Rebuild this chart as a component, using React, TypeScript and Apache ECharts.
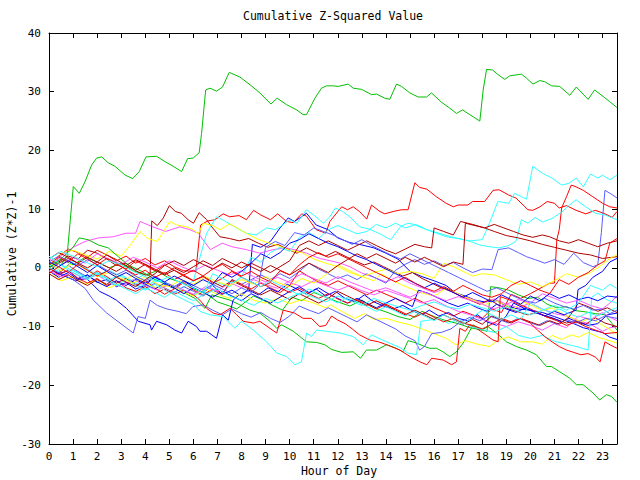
import React, { useEffect, useRef } from "react";
import * as echarts from "echarts";

const RED = "#ff0000";
const GREEN = "#00c000";
const BLUE = "#0000ff";
const MAGENTA = "#ff55ff";
const CYAN = "#33ffff";
const DARKRED = "#b00000";
const YELLOW = "#ffff00";
const SLATE = "#5c5cff";

const Y_TICKS = [-30, -20, -10, 0, 10, 20, 30, 40];
const X_MAX_HOUR = 23.6;

const greenTop = [[0,0.5],[0.25,1],[0.5,0.5],[0.75,2],[1.01,13.85],[1.26,12.7],[1.5,14.7],[1.77,17.5],[1.98,18.7],[2.19,18.9],[2.46,17.9],[2.74,17.3],[3.16,15.8],[3.48,15.2],[3.75,16.4],[4.03,18.9],[4.47,19.0],[4.82,18.1],[5.16,17.3],[5.51,16.4],[5.76,18.6],[5.99,18.7],[6.24,19.6],[6.34,22.9],[6.51,30.3],[6.69,30.6],[6.96,30.1],[7.21,30.8],[7.49,33.3],[7.93,32.5],[8.35,31.2],[8.76,29.8],[9.22,27.9],[9.48,28.9],[9.87,27.8],[10.29,26.9],[10.56,26.1],[10.7,26.1],[11.05,28.9],[11.32,30.6],[11.53,31.0],[11.81,31.0],[12.01,30.9],[12.43,31.3],[12.64,30.6],[12.99,30.4],[13.4,29.5],[13.61,29.6],[13.95,28.9],[14.16,28.7],[14.44,31.3],[14.65,30.9],[14.99,29.8],[15.34,29.1],[15.69,29.1],[15.89,29.8],[16.31,28.2],[16.65,27.2],[16.93,26.3],[17.18,26.9],[17.48,26.1],[17.9,25.0],[18.04,30.3],[18.18,33.8],[18.43,33.7],[18.66,32.9],[18.94,32.1],[19.14,32.7],[19.63,33.0],[19.84,32.3],[20.11,31.3],[20.39,31.9],[20.6,31.7],[20.88,31.0],[21.22,30.9],[21.64,29.4],[21.91,30.8],[22.4,28.7],[22.67,30.3],[23.02,29.2],[23.3,28.3],[23.6,27.3]];

const greenLow = [[0,0],[0.5,1.5],[1.0,3.5],[1.25,5.1],[1.63,4.8],[2.05,3.9],[2.46,3.4],[2.88,1.9],[3.29,0.5],[3.85,-0.6],[4.4,-2.0],[4.95,-2.9],[5.51,-4.0],[6.06,-5.2],[6.48,-6.9],[6.76,-4.6],[7.1,-5.0],[7.52,-5.5],[7.93,-6.3],[8.35,-7.2],[8.76,-7.7],[9.18,-9.1],[9.46,-10.3],[9.66,-9.7],[10.15,-10.8],[10.7,-12.6],[11.12,-12.7],[11.46,-13.1],[11.74,-13.9],[12.16,-14.4],[12.64,-14.3],[12.94,-15.4],[13.19,-14.0],[13.61,-14.0],[14.02,-13.1],[14.37,-13.6],[14.71,-14.3],[14.92,-12.4],[15.27,-12.8],[15.61,-13.4],[15.82,-13.7],[16.1,-13.7],[16.37,-14.3],[16.65,-15.1],[16.93,-14.3],[17.21,-12.8],[17.62,-9.7],[17.97,-10.6],[18.24,-10.0],[18.59,-11.1],[19.01,-12.6],[19.42,-13.4],[19.84,-14.0],[20.25,-14.8],[20.67,-16.8],[20.88,-16.8],[21.22,-17.7],[21.64,-18.8],[21.91,-19.9],[22.19,-19.9],[22.6,-21.3],[22.88,-22.5],[23.16,-21.6],[23.37,-21.9],[23.6,-22.9]];

const greenMid = [[0,0.5],[0.5,1.5],[1,0.5],[1.5,1.8],[2,1.0],[2.5,0],[3,0.8],[3.5,-0.5],[4,-1.2],[4.5,-0.5],[5,-1.8],[5.5,-2.5],[6,-3.6],[6.5,-4.3],[7,-5.8],[7.5,-6.5],[7.8,-7.0],[8.1,-6.0],[8.5,-4.8],[8.9,-5.5],[9.3,-6.4],[9.7,-7.2],[10.1,-5.0],[10.5,-5.6],[11,-4.2],[11.5,-5.0],[12,-5.8],[12.5,-6.5],[13,-5.5],[13.5,-6.8],[14,-7.5],[14.5,-8.3],[15,-8.8],[15.5,-7.4],[16,-8.3],[16.5,-9.0],[17,-9.5],[17.5,-10.2],[18,-10.6],[18.2,-10.8],[18.35,-3.2],[18.7,-3.4],[19.1,-3.8],[19.5,-4.6],[19.9,-5.2],[20.3,-5.0],[20.7,-6.2],[21.1,-6.8],[21.5,-6.6],[21.9,-7.3],[22.3,-7.5],[22.7,-7.8],[23.1,-8.0],[23.4,-9.5],[23.6,-10.6]];

const blueLow = [[0,0],[0.3,-0.8],[0.7,-1.5],[1.1,-2.2],[1.56,-1.8],[2.1,-4.0],[2.5,-4.8],[2.8,-5.5],[3.22,-6.9],[3.71,-9.1],[4.2,-9.7],[4.26,-10.6],[4.47,-9.1],[4.89,-9.7],[5.23,-10.6],[5.51,-11.1],[5.78,-9.1],[6.13,-10.0],[6.27,-10.8],[6.55,-10.8],[6.76,-11.4],[6.96,-12.0],[7.21,-8.0],[7.45,-8.9],[7.65,-5.5],[7.9,-4.6],[8.3,-3.8],[8.7,-4.6],[9.1,-3.4],[9.5,-4.1],[9.9,-2.8],[10.3,-3.6],[10.7,-4.5],[11.1,-3.6],[11.5,-4.8],[11.9,-4.0],[12.3,-5.2],[12.7,-5.8],[13.1,-4.6],[13.5,-5.8],[13.9,-6.5],[14.3,-7.0],[14.7,-6.4],[15.1,-7.3],[15.5,-8.0],[15.8,-7.2],[16.2,-8.2],[16.6,-7.6],[17.0,-8.6],[17.4,-9.0],[17.8,-8.0],[18.2,-9.2],[18.6,-9.8],[19.0,-8.2],[19.3,-6.0],[19.7,-6.8],[20.1,-7.4],[20.5,-8.0],[20.9,-8.5],[21.3,-9.2],[21.6,-8.6],[22.0,-9.3],[22.4,-9.8],[22.8,-9.5],[23.2,-8.0],[23.6,-7.7]];

const blueArc = [[0,0],[0.4,-1],[0.8,-0.5],[1.2,-1.8],[1.6,-1.2],[2.0,-2.5],[2.4,-2.0],[2.8,-3.2],[3.2,-2.5],[3.6,-3.6],[4.0,-3.0],[4.4,-1.5],[4.8,-2.8],[5.2,-3.5],[5.6,-2.2],[6.0,-3.4],[6.4,-4.2],[6.8,-3.0],[7.2,-4.5],[7.6,-3.8],[8.0,-4.8],[8.3,-3.5],[8.45,4.0],[8.8,3.5],[9.2,4.5],[9.6,6.8],[9.94,8.5],[10.2,7.9],[10.7,9.3],[11.1,7.3],[11.6,6.5],[12.0,5.1],[12.5,4.3],[13.0,3.9],[13.5,3.4],[14.0,2.5],[14.5,1.5],[15.0,-0.6],[15.5,-1.5],[16.0,-2.2],[16.5,-3.0],[16.9,-4.3],[17.3,-4.8],[17.7,-5.5],[18.1,-5.8],[18.6,-5.6],[19.0,-6.5],[19.5,-7.0],[20.0,-7.2],[20.5,-7.6],[21.0,-8.3],[21.4,-8.9],[21.8,-9.5],[22.2,-10.2],[22.6,-10.6],[23.0,-11.0],[23.3,-11.8],[23.6,-12.2]];

const blueRise = [[0,-0.5],[0.4,-1.6],[0.8,-0.8],[1.2,-2.0],[1.6,-1.2],[2,-2.4],[2.4,-3.2],[2.8,-2.2],[3.2,-3.0],[3.6,-2.0],[4,-2.8],[4.4,-3.6],[4.8,-2.6],[5.2,-3.4],[5.6,-4.4],[6,-3.4],[6.4,-4.2],[6.8,-5.0],[7.2,-4.0],[7.6,-4.8],[8.0,-5.6],[8.4,-4.4],[8.8,-5.2],[9.2,-6.0],[9.6,-5.0],[10.0,-4.0],[10.4,-3.2],[10.8,-4.2],[11.2,-3.4],[11.6,-4.4],[12.0,-5.2],[12.4,-6.0],[12.8,-5.2],[13.2,-6.0],[13.6,-6.8],[14.0,-6.0],[14.4,-5.2],[14.8,-6.0],[15.1,-6.6],[15.35,-3.8],[15.8,-4.4],[16.2,-5.2],[16.6,-6.0],[17.0,-6.6],[17.4,-6.0],[17.8,-6.8],[18.2,-7.4],[18.6,-6.2],[19.0,-7.0],[19.4,-7.6],[19.8,-6.8],[20.2,-7.6],[20.6,-8.2],[21.0,-7.4],[21.4,-8.0],[21.9,-7.2],[21.98,-3.7],[22.3,-3.0],[22.6,-1.6],[23.0,-0.6],[23.3,1.0],[23.6,1.6]];

const blueMid = [[0,1.0],[0.4,0.2],[0.8,1.2],[1.2,0.2],[1.6,-0.8],[2.0,0.4],[2.4,-0.6],[2.8,-1.6],[3.2,-0.8],[3.6,-1.8],[4.0,-2.6],[4.4,-1.6],[4.8,-2.4],[5.2,-1.4],[5.6,-2.2],[6.0,-3.0],[6.4,-2.0],[6.8,-2.8],[7.2,-0.8],[7.6,-1.6],[8.0,-0.6],[8.4,0.8],[8.8,2.4],[9.2,1.6],[9.6,2.6],[10.0,4.2],[10.4,4.8],[10.8,5.8],[11.2,5.0],[11.6,4.2],[12.0,3.6],[12.4,2.8],[12.8,2.0],[13.2,1.4],[13.6,0.6],[14.0,-0.2],[14.4,-1.0],[14.8,-1.8],[15.2,-2.6],[15.6,-3.4],[16.0,-2.6],[16.4,-3.4],[16.8,-4.2],[17.2,-5.0],[17.6,-4.2],[18.0,-5.0],[18.4,-5.8],[18.8,-4.6],[19.2,-5.4],[19.6,-6.2],[20.0,-4.8],[20.4,-5.6],[20.8,-4.4],[21.2,-5.2],[21.6,-4.6],[22.0,-5.4],[22.4,-5.0],[22.8,-5.6],[23.2,-4.8],[23.6,-5.0]];

const cyanHigh = [[0,0.5],[0.5,-0.5],[1,1.2],[1.5,0],[2,-1.2],[2.5,-0.4],[3,-1.5],[3.5,-2.2],[4,-1.0],[4.5,-2.0],[5,-2.8],[5.5,-3.5],[6,-2.2],[6.55,5.9],[6.96,8.7],[7.3,8.0],[7.7,7.0],[8.2,5.9],[8.6,5.6],[9.04,6.8],[9.4,6.5],[9.6,7.0],[10.0,8.2],[10.3,7.6],[10.7,9.9],[11.0,9.0],[11.4,7.6],[11.67,8.7],[11.9,10.2],[12.2,9.6],[12.5,8.7],[12.9,7.0],[13.3,6.6],[13.7,5.9],[14.2,4.8],[14.6,7.0],[14.9,7.6],[15.3,7.3],[15.7,6.5],[16.1,5.9],[16.5,5.3],[17.0,5.0],[17.5,4.6],[18.0,4.8],[18.3,7.6],[18.65,11.3],[19.1,11.0],[19.35,12.7],[19.84,11.7],[20.1,17.3],[20.5,16.1],[20.9,15.3],[21.3,14.1],[21.6,14.4],[21.9,15.3],[22.2,13.8],[22.5,16.0],[22.8,15.3],[23.0,15.8],[23.3,15.0],[23.6,15.8]];

const cyanUpper = [[0,-1],[0.5,0.5],[1,-0.5],[1.5,-1.5],[2,-0.8],[2.5,-2],[3,-1.2],[3.5,-2.4],[4,-3.2],[4.5,-2.0],[5,-3.0],[5.5,-3.8],[6,-4.6],[6.5,-3.8],[7,-2.5],[7.5,-3.2],[8,-1.5],[8.4,1.8],[8.8,1.0],[9.2,2.6],[9.6,3.5],[10,2.8],[10.4,5.2],[10.8,6.0],[11.2,5.0],[11.6,6.5],[12,7.2],[12.4,6.5],[12.8,5.8],[13.2,6.2],[13.6,7.4],[14,6.8],[14.4,7.6],[14.8,6.8],[15.2,7.3],[15.7,6.5],[16.2,5.9],[16.7,5.3],[17.1,4.9],[17.5,4.5],[17.9,3.9],[18.3,3.6],[18.7,3.4],[19.1,3.8],[19.4,4.5],[19.63,8.2],[19.9,7.6],[20.2,8.6],[20.5,7.8],[20.9,8.4],[21.3,9.5],[21.6,10.6],[21.9,11.6],[22.3,10.4],[22.7,9.3],[23.1,9.0],[23.6,8.2]];

const cyanLow = [[0,0],[0.4,-0.6],[0.8,0.4],[1.2,-0.8],[1.6,-1.8],[2.0,-1.0],[2.4,-2.2],[2.8,-3.0],[3.2,-2.0],[3.6,-3.0],[4.0,-3.8],[4.4,-2.8],[4.8,-3.8],[5.2,-4.6],[5.6,-5.4],[6.0,-6.2],[6.27,-7.4],[6.69,-8.0],[7.24,-8.3],[7.72,-10.3],[8.0,-9.1],[8.49,-10.6],[9.04,-12.6],[9.46,-14.5],[9.87,-15.1],[10.22,-16.5],[10.49,-16.0],[10.7,-11.1],[10.9,-11.7],[11.12,-10.6],[11.53,-10.8],[12.1,-11.1],[12.64,-11.7],[13.05,-13.1],[13.4,-11.4],[13.8,-12.2],[14.2,-12.9],[14.6,-13.6],[14.9,-14.5],[15.27,-14.8],[15.45,-9.1],[15.8,-8.9],[16.2,-8.6],[16.6,-9.5],[17.0,-8.7],[17.5,-10.0],[18.0,-10.5],[18.5,-11.0],[19.0,-10.0],[19.5,-11.5],[20.0,-12.0],[20.5,-11.5],[21.0,-12.5],[21.5,-13.0],[22.0,-13.5],[22.4,-14.0],[22.55,-5.0],[22.8,-4.3],[23.2,-5.5],[23.6,-6.0]];

const cyanMid = [[0,1.5],[0.5,2.8],[1,2.0],[1.5,1.0],[2,0.2],[2.5,1.2],[3,0.5],[3.5,-0.6],[4,-1.5],[4.5,-2.4],[5,-1.5],[5.5,-2.6],[6,-3.4],[6.5,-4.5],[7,-3.5],[7.5,-4.8],[8,-5.5],[8.5,-6.4],[9,-5.2],[9.5,-6.0],[10,-5.0],[10.5,-4.2],[11,-5.0],[11.5,-5.8],[12,-4.8],[12.5,-5.6],[13,-6.4],[13.5,-5.2],[14,-6.0],[14.5,-6.6],[15,-7.2],[15.5,-6.4],[16,-5.8],[16.5,-6.6],[17,-7.0],[17.5,-6.2],[18,-6.8],[18.5,-7.4],[19,-6.6],[19.5,-7.4],[20,-8.0],[20.5,-7.2],[21,-6.4],[21.5,-7.2],[22,-6.0],[22.5,-3.0],[23,-3.8],[23.3,-2.8],[23.6,-3.5]];

const cyanDip = [[0,2.0],[0.4,0.8],[0.8,-0.4],[1.2,-1.2],[1.6,-2.0],[2.0,-1.0],[2.4,-1.8],[2.8,-2.8],[3.2,-3.6],[3.6,-4.4],[4.0,-3.4],[4.4,-4.2],[4.8,-5.0],[5.2,-4.0],[5.6,-4.8],[6.0,-5.6],[6.4,-4.6],[6.8,-1.0],[7.2,-1.8],[7.6,-2.6],[8.0,-1.6],[8.4,-2.4],[8.8,-3.2],[9.2,-2.2],[9.6,-3.0],[10.0,-3.8],[10.4,-4.6],[10.8,-3.6],[11.2,-4.4],[11.6,-5.2],[12.0,-6.0],[12.4,-5.0],[12.8,-5.8],[13.2,-6.6],[13.6,-7.4],[14.0,-6.6],[14.4,-7.4],[14.8,-8.2],[15.2,-7.4],[15.6,-8.2],[16.0,-9.0],[16.4,-8.0],[16.8,-8.8],[17.2,-9.6],[17.6,-8.4],[18.0,-7.2],[18.4,-8.0],[18.8,-8.8],[19.2,-8.0],[19.6,-8.8],[20.0,-6.0],[20.4,-6.8],[20.8,-7.6],[21.2,-7.0],[21.6,-7.8],[22.0,-8.4],[22.4,-7.6],[22.8,-8.2],[23.2,-7.4],[23.6,-6.8]];

const redHigh = [[0,0.5],[0.4,2.0],[0.8,3.2],[1.2,2.6],[1.6,1.8],[2.0,3.0],[2.4,2.2],[2.8,1.2],[3.2,2.0],[3.6,0.8],[4.0,1.6],[4.4,0.5],[4.8,1.2],[5.2,0.2],[5.6,-0.5],[6.1,-0.6],[6.3,7.3],[6.6,8.0],[6.9,8.2],[7.24,9.2],[7.5,8.7],[7.9,8.9],[8.2,8.2],[8.5,9.8],[8.8,9.0],[9.2,8.2],[9.5,9.2],[9.87,7.9],[10.15,7.7],[10.5,9.2],[10.7,8.8],[11.1,6.5],[11.5,5.9],[11.67,7.9],[12.16,10.4],[12.4,9.9],[12.64,10.4],[12.9,9.6],[13.2,8.3],[13.4,10.7],[13.75,9.6],[13.95,9.2],[14.3,9.6],[14.65,9.9],[14.92,9.9],[15.2,14.5],[15.4,13.7],[15.7,13.4],[16.1,12.1],[16.5,11.0],[16.8,10.4],[17.0,10.7],[17.4,10.7],[17.6,11.3],[18.1,11.3],[18.45,13.2],[18.7,13.3],[19.1,12.4],[19.4,11.9],[19.9,9.9],[20.1,9.8],[20.4,10.4],[20.7,11.3],[21.0,11.0],[21.2,10.2],[21.5,10.6],[21.9,9.8],[22.3,9.2],[22.7,9.8],[23.1,9.2],[23.4,8.6],[23.6,9.6]];

const redRise = [[0,0],[0.4,-1.0],[0.8,0.5],[1.2,-0.8],[1.6,-1.8],[2,-0.5],[2.4,-1.5],[2.8,-2.6],[3.2,-1.8],[3.6,-3.0],[4,-2.2],[4.4,-3.4],[4.8,-4.5],[5.2,-3.6],[5.6,-2.5],[6,-3.8],[6.4,-4.6],[6.8,-3.6],[7.2,-4.4],[7.6,-2.0],[8.0,-2.8],[8.4,-3.6],[8.8,-2.6],[9.2,-3.4],[9.6,-4.2],[10,-3.0],[10.4,-0.5],[10.8,-1.5],[11.2,-2.4],[11.6,-3.0],[12,-2.2],[12.4,-3.0],[12.8,-3.8],[13.2,-4.6],[13.6,-3.8],[14.0,-4.5],[14.4,-5.2],[14.8,-6.0],[15.2,-5.2],[15.6,-6.0],[16.0,-6.8],[16.4,-7.5],[16.8,-8.2],[17.2,-7.4],[17.6,-8.0],[18.0,-8.6],[18.4,-7.0],[18.8,-7.6],[19.2,-4.5],[19.6,-5.2],[20.0,-4.4],[20.4,-3.5],[20.8,-2.6],[21.0,-2.6],[21.1,4.8],[21.2,6.5],[21.3,10.2],[21.5,12.1],[21.7,14.1],[21.9,13.8],[22.2,13.2],[22.6,12.1],[23.0,11.0],[23.3,10.4],[23.6,10.2]];

const redLow = [[0,0],[0.4,-1.2],[0.8,-0.4],[1.2,-1.8],[1.6,-2.6],[2,-1.8],[2.4,-3.0],[2.8,-2.2],[3.2,-3.4],[3.6,-4.0],[4,-3.2],[4.4,-4.4],[4.8,-3.6],[5.2,-4.5],[5.6,-3.8],[6.0,-4.6],[6.27,-5.5],[6.55,-6.9],[6.82,-7.7],[7.1,-8.0],[7.52,-6.9],[7.8,-8.0],[8.07,-9.1],[8.49,-9.4],[8.76,-9.1],[9.18,-10.3],[9.46,-11.1],[9.73,-7.2],[10.2,-7.7],[10.56,-8.6],[10.9,-8.6],[11.25,-10.0],[11.5,-9.8],[11.74,-8.2],[12.0,-8.9],[12.3,-9.5],[12.6,-10.4],[12.9,-11.4],[13.33,-12.3],[13.7,-12.6],[14.1,-13.2],[14.58,-14.0],[15.0,-15.1],[15.41,-16.0],[15.7,-16.5],[15.9,-15.4],[16.38,-15.7],[16.73,-16.5],[16.93,-16.0],[17.07,-10.3],[17.3,-10.8],[17.48,-9.7],[17.76,-10.3],[18.04,-11.1],[18.45,-12.3],[18.66,-12.6],[18.75,-4.9],[19.1,-5.4],[19.5,-6.2],[19.9,-6.8],[20.3,-7.6],[20.7,-8.4],[21.1,-9.0],[21.5,-9.8],[21.9,-9.2],[22.3,-10.0],[22.7,-10.6],[23.1,-11.2],[23.6,-11.0]];

const redBottom = [[0,0.5],[0.4,1.8],[0.8,1.0],[1.2,2.4],[1.6,1.5],[2,0.5],[2.4,1.6],[2.8,0.8],[3.2,-0.3],[3.6,-1.2],[4.0,-0.4],[4.4,-1.6],[4.8,-0.8],[5.2,-2.0],[5.6,-1.2],[6,-2.2],[6.4,-1.5],[6.8,-2.6],[7.2,-1.8],[7.6,-0.6],[8.0,-1.6],[8.4,-2.4],[8.8,-3.2],[9.2,-2.5],[9.6,-3.4],[10,-4.2],[10.4,-3.5],[10.8,-4.4],[11.2,-5.2],[11.6,-4.4],[12,-5.3],[12.4,-6.0],[12.8,-5.4],[13.2,-6.2],[13.6,-7.0],[14.0,-6.2],[14.4,-7.0],[14.8,-7.8],[15.2,-8.4],[15.6,-7.6],[16.0,-8.4],[16.4,-9.2],[16.8,-8.6],[17.2,-9.4],[17.6,-9.8],[18.0,-10.4],[18.4,-9.6],[18.8,-8.6],[19.2,-9.2],[19.6,-8.6],[20.0,-9.4],[20.3,-10.6],[20.6,-11.7],[20.9,-12.6],[21.2,-13.4],[21.5,-14.0],[21.8,-14.4],[22.1,-14.8],[22.4,-14.6],[22.7,-15.2],[22.9,-16.0],[23.1,-12.6],[23.35,-13.2],[23.6,-13.7]];

const redMid = [[0,-1],[0.4,0.2],[0.8,-0.8],[1.2,0.6],[1.6,-0.4],[2,-1.4],[2.4,-0.6],[2.8,0.6],[3.2,-0.2],[3.6,1.2],[4,0.4],[4.4,-0.5],[4.8,0.5],[5.2,-0.4],[5.6,-1.2],[6.0,-0.4],[6.4,-1.4],[6.8,-0.2],[7.2,0.6],[7.6,-0.5],[8,-1.4],[8.4,-0.6],[8.8,-1.6],[9.2,-2.4],[9.6,-0.5],[10,-1.2],[10.4,0.5],[10.8,1.8],[11.2,2.6],[11.6,1.8],[12,2.4],[12.4,1.6],[12.8,0.8],[13.2,0],[13.6,-0.8],[14,-1.6],[14.4,-2.4],[14.8,-1.6],[15.2,-2.6],[15.6,-3.4],[16,-4.0],[16.4,-3.2],[16.8,-4.0],[17.2,-3.0],[17.6,-3.8],[18.0,-4.6],[18.4,-5.0],[18.8,-4.4],[19.2,-3.0],[19.6,-2.2],[20.0,-3.0],[20.4,-3.8],[20.8,-4.4],[21.2,-2.0],[21.6,-2.8],[22.0,-1.6],[22.4,-0.8],[22.8,0.5],[23.1,1.2],[23.3,4.2],[23.6,5.0]];

const darkRedHigh = [[0,0],[0.4,1.0],[0.8,2.0],[1.2,1.5],[1.6,3.0],[2,2.5],[2.4,1.5],[2.8,0.4],[3.2,0.8],[3.6,-0.5],[4.0,-1.2],[4.2,-1.2],[4.27,8.0],[4.5,7.2],[4.75,8.5],[5.0,10.6],[5.25,9.6],[5.5,9.3],[5.78,8.2],[6.0,7.6],[6.24,9.4],[6.55,8.2],[6.8,6.8],[7.1,5.3],[7.5,5.0],[7.9,4.6],[8.3,5.0],[8.7,4.2],[9.1,3.5],[9.5,4.0],[9.9,3.2],[10.3,2.5],[10.7,3.4],[11.1,2.6],[11.5,2.0],[11.9,2.8],[12.3,2.0],[12.7,1.2],[13.1,0.5],[13.5,1.0],[13.9,0.2],[14.3,-0.6],[14.7,-1.4],[15.1,-0.8],[15.5,-1.8],[15.9,-2.6],[16.3,-3.4],[16.7,-4.0],[17.1,-4.8],[17.5,-5.5],[17.9,-6.2],[18.3,-5.4],[18.7,-6.4],[19.1,-7.0],[19.5,-7.5],[19.9,-8.0],[20.3,-7.6],[20.7,-8.4],[21.1,-8.8],[21.5,-9.4],[21.9,-9.0],[22.3,-9.6],[22.7,-8.5],[23.1,-9.4],[23.6,-10.0]];

const darkRedStep = [[0,-0.5],[0.4,0.8],[0.8,1.6],[1.2,0.8],[1.6,0],[2.0,1.0],[2.4,0.2],[2.8,-0.6],[3.2,0.4],[3.6,-0.4],[4.0,0.6],[4.4,-0.2],[4.8,-1.0],[5.2,0],[5.6,-0.8],[6.0,0.2],[6.4,1.2],[6.8,0.4],[7.2,1.6],[7.6,0.8],[8.0,0],[8.4,0.8],[8.8,0],[9.2,-0.8],[9.6,0.2],[10.0,1.2],[10.4,3.8],[10.8,4.6],[11.2,3.8],[11.6,4.6],[12.0,3.8],[12.4,3.0],[12.8,3.8],[13.2,4.6],[13.6,3.8],[14.0,3.0],[14.4,2.4],[14.8,3.2],[15.2,4.0],[15.6,3.6],[15.9,3.4],[16.0,6.8],[16.4,6.2],[16.8,5.6],[17.1,7.9],[17.6,7.4],[18.1,6.8],[18.5,6.2],[19.0,5.5],[19.5,5.1],[20.0,4.6],[20.5,4.0],[21.0,3.5],[21.5,3.0],[22.0,2.5],[22.5,2.2],[23.0,1.6],[23.6,1.9]];

const darkRedMid = [[0,1.5],[0.4,2.6],[0.8,1.8],[1.2,0.8],[1.6,1.8],[2,1.0],[2.4,2.2],[2.8,1.4],[3.2,0.4],[3.6,1.4],[4.0,0.6],[4.4,-0.4],[4.8,-1.2],[5.2,-0.4],[5.6,-1.4],[6.0,-2.2],[6.4,-1.4],[6.8,-2.4],[7.2,-3.2],[7.6,-2.2],[8.0,-3.0],[8.4,-3.8],[8.8,-4.6],[9.2,-3.8],[9.6,-4.6],[10.0,-5.4],[10.4,-4.4],[10.8,-5.2],[11.2,-6.0],[11.6,-5.2],[12.0,-4.0],[12.4,-4.8],[12.8,-5.6],[13.2,-6.4],[13.6,-5.6],[14.0,-6.4],[14.4,-7.2],[14.8,-8.0],[15.2,-7.2],[15.6,-8.0],[16.0,-8.8],[16.4,-8.0],[16.8,-8.8],[17.2,-9.6],[17.6,-8.8],[18.0,-9.6],[18.4,-8.2],[18.8,-8.8],[19.2,-9.4],[19.6,-8.6],[20.0,-9.2],[20.4,-9.8],[20.8,-9.0],[21.2,-9.6],[21.6,-8.4],[22.0,-6.0],[22.4,-6.6],[22.8,-7.4],[23.2,-6.8],[23.6,-7.6]];

const darkRedLate = [[0,-1.0],[0.4,-2.0],[0.8,-1.2],[1.2,-2.2],[1.6,-3.0],[2,-2.0],[2.4,-2.8],[2.8,-1.6],[3.2,-2.4],[3.6,-3.2],[4,-2.0],[4.4,-1.0],[4.8,0.4],[5.2,1.2],[5.6,0.4],[6.0,1.4],[6.4,0.6],[6.8,-0.2],[7.2,0.8],[7.6,0],[8.0,1.0],[8.4,0.2],[8.8,-0.6],[9.2,0.4],[9.6,-0.4],[10.0,-1.2],[10.4,-0.2],[10.8,0.8],[11.2,0],[11.6,-0.8],[12.0,0.4],[12.4,1.4],[12.8,2.4],[13.2,1.6],[13.6,2.4],[14.0,1.6],[14.4,0.8],[14.8,1.8],[15.2,1.0],[15.6,1.8],[16.0,1.0],[16.4,0.2],[16.8,1.0],[17.2,0.6],[17.3,7.6],[17.7,7.2],[18.1,6.8],[18.5,7.4],[18.9,6.8],[19.3,6.2],[19.7,5.6],[20.1,5.2],[20.5,5.6],[20.8,5.3],[21.2,4.6],[21.6,4.2],[22.0,4.8],[22.4,4.2],[22.8,3.6],[23.2,4.2],[23.6,4.6]];

const magentaHigh = [[0,0],[0.5,2],[1,3.5],[1.5,4.5],[2.05,5.1],[2.67,5.3],[3.2,5.9],[3.6,5.9],[3.78,7.9],[4.3,7.0],[4.85,6.2],[5.44,7.0],[5.85,6.5],[6.2,5.9],[6.7,3.1],[7.2,4.2],[7.6,3.6],[8.2,3.1],[8.76,2.5],[9.3,3.1],[9.87,3.4],[10.3,3.0],[10.7,2.5],[11.25,1.6],[11.7,1.2],[12.1,0.8],[12.5,0.2],[13.0,-0.9],[13.5,-1.6],[14.0,-2.4],[14.5,-1.5],[15.0,-2.6],[15.5,-3.4],[16.0,-4.2],[16.5,-3.5],[17.0,-4.6],[17.5,-5.2],[18.0,-6.0],[18.5,-5.3],[19.0,-6.2],[19.5,-6.8],[20.0,-6.0],[20.5,-7.0],[21.0,-7.8],[21.5,-8.2],[22.0,-9.0],[22.5,-9.6],[23.0,-10.8],[23.3,-10.2],[23.6,-10.0]];

const magentaMid = [[0,1.5],[0.5,0.5],[1,1.8],[1.5,0.8],[2,2.4],[2.5,1.5],[3,0.6],[3.5,1.8],[4,1.0],[4.5,0],[5,1.2],[5.5,0.2],[6,-0.6],[6.5,0.5],[7,-0.4],[7.5,-1.2],[8,-0.5],[8.5,-1.5],[9,-2.4],[9.5,-1.6],[10,-2.5],[10.5,-3.2],[11,-2.2],[11.5,-3.0],[12,-3.8],[12.5,-3.0],[13,-3.9],[13.5,-4.6],[14,-3.8],[14.5,-4.5],[15,-5.2],[15.5,-6.0],[16,-5.4],[16.5,-6.5],[17,-7.4],[17.5,-8.0],[18,-8.8],[18.5,-9.4],[19,-10.0],[19.5,-9.2],[20,-9.8],[20.5,-10.6],[21,-9.5],[21.5,-10.2],[22,-8.2],[22.5,-8.8],[23,-7.6],[23.3,-8.4],[23.6,-9.0]];

const magentaLow = [[0,-0.5],[0.5,-1.5],[1,-0.8],[1.5,-2.0],[2,-1.2],[2.5,-2.5],[3,-3.2],[3.5,-2.0],[4,-3.0],[4.5,-3.8],[5,-2.8],[5.5,-3.6],[6,-4.5],[6.5,-3.2],[7,-4.0],[7.5,-2.5],[8,-3.4],[8.5,-2.0],[9,-2.8],[9.5,-3.5],[10,-2.2],[10.5,-1.0],[11,-1.8],[11.5,-2.6],[12,-1.5],[12.5,-2.4],[13,-3.2],[13.5,-4.0],[14,-3.4],[14.5,-4.2],[15,-5.0],[15.5,-4.0],[16,-4.8],[16.5,-5.6],[17,-4.9],[17.5,-5.5],[18,-6.2],[18.5,-7.0],[19,-6.2],[19.5,-5.4],[20,-6.0],[20.5,-4.4],[21,-5.2],[21.5,-6.0],[22,-5.5],[22.5,-6.4],[23,-7.0],[23.3,-6.0],[23.6,-4.8]];

const yellowHigh = [[0,0.5],[0.5,2.5],[1,3.0],[1.5,2.2],[2,1.5],[2.5,2.8],[3,2.0],[3.4,4.0],[3.78,6.2],[4.1,5.0],[4.5,4.5],[5.02,7.9],[5.3,7.3],[5.7,7.0],[6.0,6.5],[6.2,5.8],[6.41,7.6],[6.8,7.2],[7.1,6.5],[7.52,7.5],[7.93,6.5],[8.2,5.9],[8.6,5.0],[9,4.4],[9.5,3.8],[10,3.0],[10.5,2.6],[11,1.5],[11.5,0.8],[12,0.2],[12.5,-0.8],[13,-1.5],[13.5,-2.2],[13.8,-1.0],[14.2,-2.0],[14.6,-2.8],[15,-3.5],[15.5,-4.3],[16,-4.8],[16.5,-3.5],[16.9,-4.2],[17.3,-5.0],[17.7,-5.6],[18.1,-6.3],[18.5,-5.5],[18.9,-6.2],[19.3,-7.0],[19.7,-5.8],[20.1,-6.5],[20.5,-7.3],[20.9,-6.8],[21.3,-7.8],[21.7,-8.5],[22.1,-9.2],[22.5,-8.5],[22.9,-9.5],[23.3,-10.5],[23.6,-11.3]];

const yellowLow = [[0,-0.5],[0.5,-2.2],[1,-1.5],[1.5,-2.8],[2,-2.0],[2.5,-3.4],[3,-2.5],[3.5,-1.2],[4,-2.6],[4.5,-3.5],[5,-2.8],[5.5,-4.0],[6,-4.8],[6.5,-3.6],[7,-4.5],[7.5,-5.2],[8,-4.4],[8.5,-5.5],[9,-6.0],[9.5,-5.2],[10,-6.1],[10.5,-5.4],[11,-6.0],[11.5,-6.8],[11.7,-6.3],[12.2,-7.5],[12.7,-8.6],[13.1,-7.8],[13.5,-8.8],[14,-8.6],[14.5,-9.2],[15,-9.7],[15.5,-10.4],[16,-11.2],[16.5,-12.0],[16.9,-13.1],[17.3,-12.4],[17.8,-13.0],[18.3,-13.4],[18.7,-12.2],[19.1,-11.8],[19.6,-12.6],[20.1,-12.6],[20.5,-13.0],[20.9,-11.5],[21.3,-12.2],[21.7,-11.4],[22.0,-11.8],[22.4,-11.0],[22.8,-11.8],[23.2,-12.3],[23.6,-12.8]];

const yellowMid = [[0,1.0],[0.5,-0.5],[1,0.8],[1.5,-0.2],[2,-1.5],[2.5,-0.8],[3,-1.8],[3.5,-2.6],[4,-1.5],[4.5,-2.8],[5,-3.2],[5.5,-2.0],[6,-2.8],[6.5,-1.5],[7,-2.4],[7.5,-3.0],[8,-2.0],[8.5,-2.8],[9,-1.5],[9.5,-2.5],[10,-3.2],[10.5,-1.8],[11,-2.6],[11.5,-1.2],[12,0.5],[12.5,-0.5],[13,-1.5],[13.5,-0.8],[14,-0.2],[14.5,-1.0],[15,-0.6],[15.5,-1.0],[16,-1.8],[16.4,0.8],[16.8,0.2],[17.2,-0.6],[17.6,-1.4],[18,-1.0],[18.5,-1.2],[19,-2.0],[19.5,-2.8],[20,-2.4],[20.5,-3.2],[21,-2.2],[21.5,-1.0],[22,-1.6],[22.5,-0.8],[23,0.6],[23.3,1.6],[23.6,2.2]];

const slateRise = [[0,0],[0.4,-0.8],[0.8,0.4],[1.2,-0.6],[1.6,-1.6],[2.0,-0.8],[2.4,-1.8],[2.8,-2.6],[3.2,-1.8],[3.6,-2.8],[4.0,-3.6],[4.4,-2.6],[4.8,-3.4],[5.2,-4.2],[5.6,-3.2],[6.0,-4.0],[6.4,-4.8],[6.8,-3.8],[7.2,-4.6],[7.6,-2.0],[8.0,-2.8],[8.4,-2.0],[8.8,-1.2],[9.2,-2.0],[9.6,-1.0],[10.0,-1.8],[10.4,-0.6],[10.8,0.8],[11.2,-0.2],[11.6,-1.0],[12.0,-1.8],[12.4,-1.2],[12.8,-2.0],[13.2,-1.0],[13.6,-1.8],[14.0,-2.6],[14.4,-0.4],[14.8,0.6],[15.2,1.4],[15.6,0.6],[16.0,1.2],[16.4,0.4],[16.8,0.9],[17.2,0],[17.6,-0.8],[18.0,-0.2],[18.4,-0.3],[18.66,3.1],[19.1,3.4],[19.5,2.6],[19.84,1.9],[20.2,1.4],[20.6,0.8],[21.0,1.4],[21.4,0.6],[21.8,2.5],[22.2,0.9],[22.6,0.2],[22.8,0.5],[22.95,6.0],[23.1,13.2],[23.35,12.6],[23.6,11.9]];

const slateLow = [[0,0],[0.5,-1.0],[1.0,-2.0],[1.5,-3.5],[1.84,-5.5],[2.4,-7.7],[2.95,-9.4],[3.5,-11.1],[3.7,-8.3],[4.0,-8.6],[4.2,-5.5],[4.5,-6.4],[4.9,-7.0],[5.35,-7.4],[5.7,-7.8],[5.98,-6.6],[6.4,-6.3],[6.8,-7.2],[7.2,-8.0],[7.6,-7.0],[8.0,-7.8],[8.4,-8.4],[8.8,-7.6],[9.2,-8.6],[9.6,-9.3],[10.0,-8.2],[10.4,-6.5],[10.8,-7.2],[11.2,-7.8],[11.6,-6.8],[12.0,-7.6],[12.4,-8.4],[12.8,-9.2],[13.2,-8.0],[13.6,-8.8],[14.0,-9.6],[14.4,-10.4],[14.8,-11.6],[15.2,-12.4],[15.4,-14.0],[15.6,-13.4],[15.9,-11.2],[16.3,-11.0],[16.7,-10.4],[17.1,-9.2],[17.5,-8.4],[17.9,-9.0],[18.3,-8.2],[18.7,-8.8],[19.1,-9.4],[19.5,-8.6],[19.9,-9.2],[20.3,-9.8],[20.7,-9.0],[21.1,-9.6],[21.5,-8.8],[21.9,-9.4],[22.3,-8.6],[22.7,-9.0],[23.1,-8.2],[23.6,-8.6]];

const slateMid = [[0,1],[0.4,2.0],[0.8,1.2],[1.2,0.4],[1.6,1.4],[2,0.6],[2.4,-0.4],[2.8,-1.2],[3.2,-0.4],[3.6,-1.4],[4,-2.2],[4.4,-1.4],[4.8,-2.4],[5.2,-3.2],[5.6,-2.2],[6.0,-3.0],[6.4,-3.8],[6.8,-2.8],[7.2,-3.6],[7.6,-4.4],[8,-3.4],[8.4,-4.2],[8.7,-3.0],[9.0,3.5],[9.4,4.5],[9.8,3.8],[10.2,6.0],[10.6,5.6],[11.0,6.8],[11.4,6.2],[11.8,5.6],[12.2,4.8],[12.6,4.0],[13.0,4.8],[13.4,3.8],[13.8,3.0],[14.2,2.2],[14.6,1.5],[15.0,2.4],[15.4,1.6],[15.8,0.8],[16.2,0],[16.6,-0.8],[17.0,-1.6],[17.4,-2.4],[17.8,-3.2],[18.2,-4.0],[18.6,-3.4],[19.0,-4.2],[19.4,-5.0],[19.8,-5.6],[20.2,-6.0],[20.6,-5.2],[21.0,-6.0],[21.4,-6.6],[21.8,-7.0],[22.2,-6.4],[22.6,-7.2],[23.0,-7.0],[23.3,-7.8],[23.6,-7.2]];

const LINES = [
  { data: redHigh, color: RED },
  { data: greenMid, color: GREEN },
  { data: blueArc, color: BLUE },
  { data: magentaHigh, color: MAGENTA },
  { data: cyanHigh, color: CYAN },
  { data: darkRedHigh, color: DARKRED },
  { data: yellowHigh, color: YELLOW },
  { data: slateRise, color: SLATE },
  { data: redRise, color: RED },
  { data: greenLow, color: GREEN },
  { data: blueLow, color: BLUE },
  { data: magentaMid, color: MAGENTA },
  { data: cyanUpper, color: CYAN },
  { data: darkRedStep, color: DARKRED },
  { data: yellowLow, color: YELLOW },
  { data: slateLow, color: SLATE },
  { data: redLow, color: RED },
  { data: greenTop, color: GREEN },
  { data: blueRise, color: BLUE },
  { data: magentaLow, color: MAGENTA },
  { data: cyanLow, color: CYAN },
  { data: darkRedMid, color: DARKRED },
  { data: yellowMid, color: YELLOW },
  { data: slateMid, color: SLATE },
  { data: redBottom, color: RED },
  { data: blueMid, color: BLUE },
  { data: cyanMid, color: CYAN },
  { data: darkRedLate, color: DARKRED },
  { data: redMid, color: RED },
  { data: cyanDip, color: CYAN },
];

const FONT = "'DejaVu Sans Mono', monospace";

export default function App() {
  const ref = useRef<HTMLDivElement>(null);
  useEffect(() => {
    if (!ref.current) return;
    const chart = echarts.init(ref.current, undefined, { renderer: "svg" });
    const axisLine = { show: true, onZero: false, lineStyle: { color: "#000", width: 1 } };
    const tick = { show: true, inside: true, length: 5, lineStyle: { color: "#000", width: 1 } };
    chart.setOption({
      animation: false,
      backgroundColor: "#ffffff",
      grid: { left: 49, right: 23, top: 33, bottom: 36, containLabel: false },
      xAxis: [
        {
          type: "value", position: "bottom", min: 0, max: X_MAX_HOUR, interval: 1,
          axisLine, axisTick: tick, splitLine: { show: false },
          axisLabel: {
            color: "#000", fontFamily: FONT, fontSize: 11, margin: 7, showMaxLabel: false,
            formatter: (v: number) => (Number.isInteger(v) ? String(v) : ""),
          },
        },
        {
          type: "value", position: "top", min: 0, max: X_MAX_HOUR, interval: 1,
          axisLine, axisTick: tick, splitLine: { show: false }, axisLabel: { show: false },
        },
      ],
      yAxis: [
        {
          type: "value", position: "left", min: Y_TICKS[0], max: Y_TICKS[Y_TICKS.length - 1], interval: 10,
          axisLine, axisTick: tick, splitLine: { show: false },
          axisLabel: { color: "#000", fontFamily: FONT, fontSize: 11, margin: 8 },
        },
        {
          type: "value", position: "right", min: Y_TICKS[0], max: Y_TICKS[Y_TICKS.length - 1], interval: 10,
          axisLine, axisTick: tick, splitLine: { show: false }, axisLabel: { show: false },
        },
      ],
      graphic: [
        { type: "text", x: 333, y: 16, style: { text: "Cumulative Z-Squared Value", font: `11.5px ${FONT}`, fill: "#000", textAlign: "center", textVerticalAlign: "middle" } },
        { type: "text", x: 339, y: 471, style: { text: "Hour of Day", font: `11.5px ${FONT}`, fill: "#000", textAlign: "center", textVerticalAlign: "middle" } },
        { type: "text", x: 12, y: 254, rotation: Math.PI / 2, style: { text: "Cumulative (Z*Z)-1", font: `11.5px ${FONT}`, fill: "#000", textAlign: "center", textVerticalAlign: "middle" } },
      ],
      series: LINES.map((l, i) => ({
        type: "line",
        name: "s" + i,
        xAxisIndex: 0,
        yAxisIndex: 0,
        data: l.data,
        showSymbol: false,
        symbol: "none",
        lineStyle: { color: l.color, width: 1 },
        itemStyle: { color: l.color },
        emphasis: { disabled: true },
        silent: true,
      })),
    });
    return () => chart.dispose();
  }, []);
  return <div ref={ref} style={{ position: "fixed", left: 0, top: 0, width: 640, height: 480, background: "#fff" }} />;
}
